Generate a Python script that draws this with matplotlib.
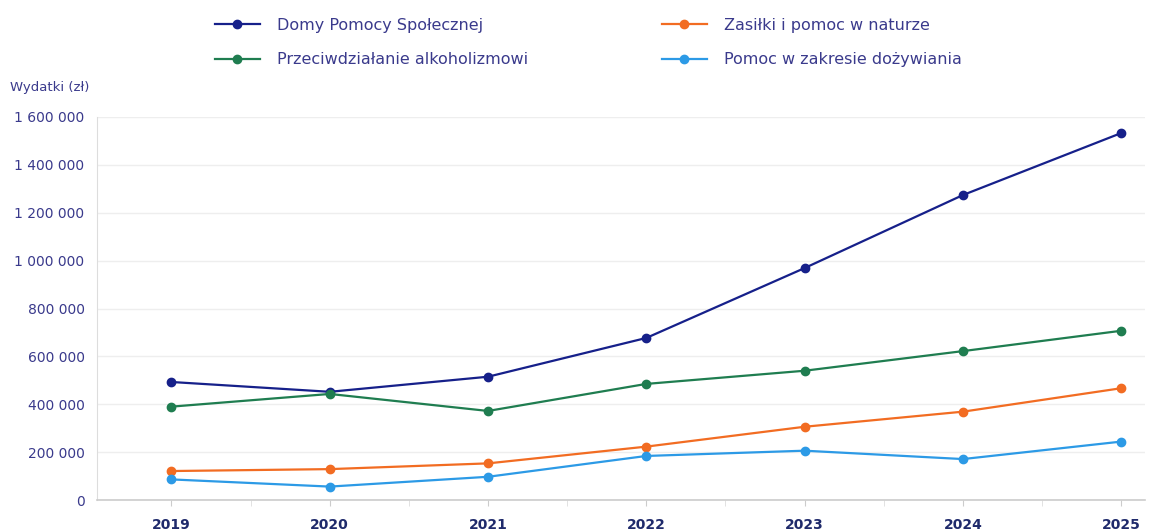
import matplotlib
matplotlib.use("Agg")
import matplotlib.pyplot as plt
from matplotlib.ticker import FuncFormatter, MultipleLocator

years = ["2019", "2020", "2021", "2022", "2023", "2024", "2025"]
domy = [493000, 452000, 515000, 677000, 969000, 1274000, 1533000]
alkohol = [390000, 443000, 372000, 485000, 540000, 622000, 707000]
zasilki = [121000, 129000, 153000, 223000, 306000, 369000, 467000]
dozywianie = [86000, 56000, 97000, 184000, 206000, 171000, 244000]

series_names = ["Domy Pomocy Społecznej", "Zasiłki i pomoc w naturze",
                "Przeciwdziałanie alkoholizmowi", "Pomoc w zakresie dożywiania"]
colors = ["#16208a", "#f26c22", "#1f7d50", "#2c9ae6"]
text_color = "#3a3a8c"

plt.rcParams['font.family'] = ['DejaVu Sans']

fig = plt.figure(figsize=(11.55, 5.31), dpi=100)
ax = fig.add_axes([97/1155, 1 - 500/531, (1145-97)/1155, (500-117)/531])

x = list(range(len(years)))
data = [domy, zasilki, alkohol, dozywianie]
lines = []
for vals, c, name in zip(data, colors, series_names):
    l, = ax.plot(x, vals, color=c, lw=1.6, marker='o', ms=6, label=name, zorder=3)
    lines.append(l)

ax.set_xlim(-0.47, 6.15)
ax.set_ylim(0, 1600000)
ax.yaxis.set_major_locator(MultipleLocator(200000))
ax.yaxis.set_major_formatter(FuncFormatter(lambda v, p: f"{int(v):,}".replace(",", " ")))
ax.set_xticks(x)
ax.set_xticklabels(years, fontweight='bold')
ax.set_xticks([i + 0.5 for i in range(6)], minor=True)

ax.grid(axis='y', color='#eeeeee', lw=1)
for s in ['top', 'right']:
    ax.spines[s].set_visible(False)
ax.spines['left'].set_color('#dddddd')
ax.spines['bottom'].set_color('#cccccc')
ax.spines['bottom'].set_linewidth(1.2)
ax.tick_params(axis='y', colors=text_color, labelsize=10, length=0, pad=9)
ax.tick_params(axis='x', colors=text_color, labelsize=10, length=4, color='#cccccc', pad=9)
ax.tick_params(axis='x', which='minor', length=4, color='#dddddd')
for lab in ax.get_xticklabels():
    lab.set_color('#1f2a6b')

fig.text(10/1155, 1 - 88/531, "Wydatki (zł)", color=text_color, fontsize=9.5, va='center', ha='left')

common = dict(frameon=False, fontsize=11.5, labelcolor=text_color, handlelength=2.8,
              handletextpad=1.1, labelspacing=1.2, borderpad=0, borderaxespad=0,
              loc='upper left')
leg1 = fig.legend(handles=[lines[0], lines[2]], labels=[series_names[0], series_names[2]],
                  bbox_to_anchor=(215/1155, 1 - 18/531), **common)
leg2 = fig.legend(handles=[lines[1], lines[3]], labels=[series_names[1], series_names[3]],
                  bbox_to_anchor=(662/1155, 1 - 18/531), **common)

fig.savefig("out.png", dpi=100)
